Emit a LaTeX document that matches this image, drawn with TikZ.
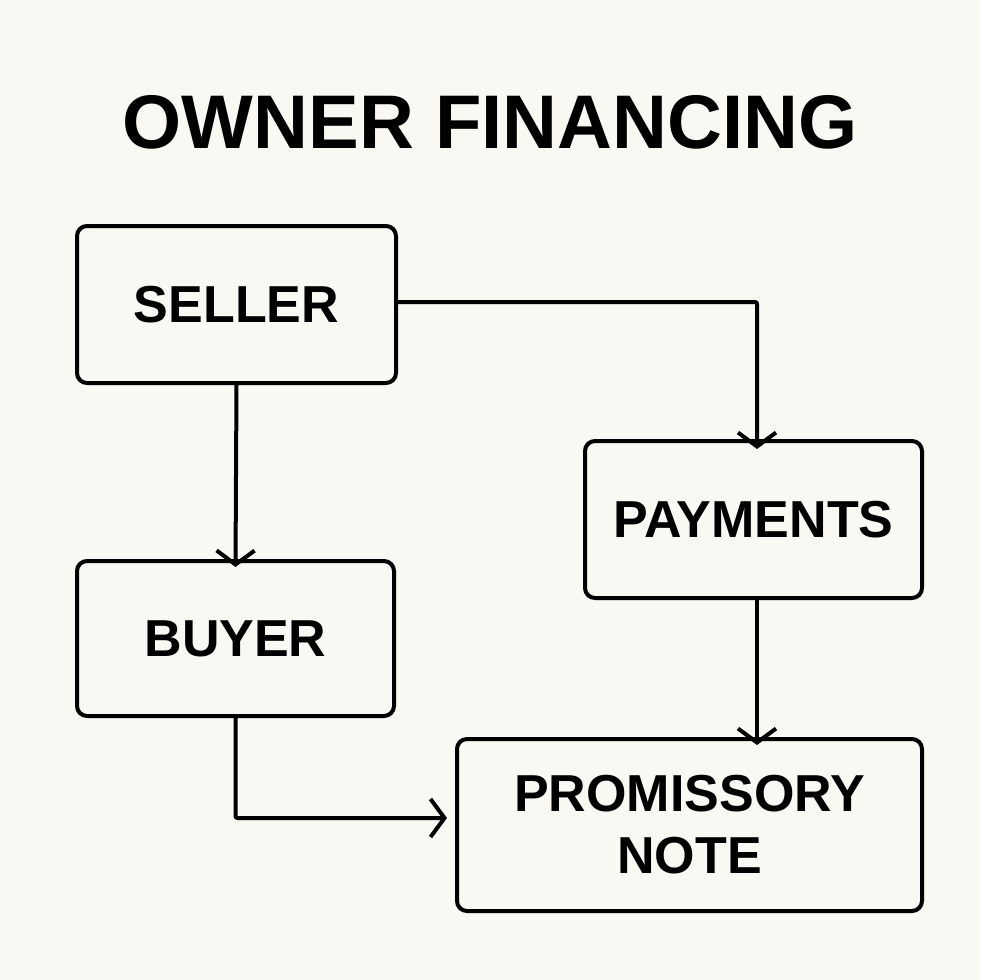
\documentclass[tikz,border=0pt]{standalone}
\usepackage{fontspec}
\setmainfont{Liberation Sans}
\usetikzlibrary{arrows.meta}
\begin{document}
\begin{tikzpicture}[x=1pt,y=-1pt,
  box/.style={draw,line width=4pt,rounded corners=10pt,inner sep=0pt,align=center,font=\fontsize{52}{62}\selectfont\bfseries},
  conn/.style={line width=4pt,-{Straight Barb[length=14pt,width=38pt,line width=4pt]}}]
\fill[fill={rgb,255:red,250;green,248;blue,243}] (0,0) rectangle (980,980);
\useasboundingbox (0,0) rectangle (980,980);
\node (title) at (490,122) {\fontsize{76}{80}\selectfont\bfseries OWNER FINANCING};
\node[box,minimum width=319pt,minimum height=157pt] (seller) at (236.5,304.5) {SELLER};
\node[box,minimum width=317pt,minimum height=155pt] (buyer) at (235.5,638.5) {BUYER};
\node[box,minimum width=337pt,minimum height=157pt] (pay) at (753.5,519.5) {PAYMENTS};
\node[box,minimum width=465pt,minimum height=172pt] (note) at (689.5,825) {PROMISSORY\\NOTE};
\draw[conn,rounded corners=2pt] (seller.east |- 0,302) -| ([yshift=-8pt]757,441);
\draw[conn] (seller.south) -- ([yshift=-8pt]buyer.north);
\draw[conn] (757,598) -- ([yshift=-8pt]note.north -| 757,0);
\draw[conn,rounded corners=2pt] (buyer.south) |- ([xshift=-8pt]note.west |- 0,818);
\end{tikzpicture}
\end{document}
